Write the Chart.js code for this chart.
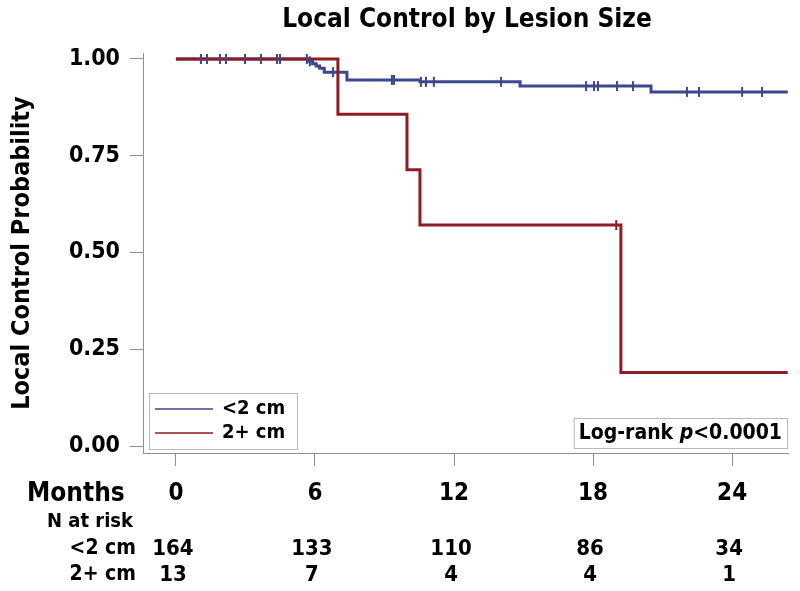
<!DOCTYPE html>
<html><head><meta charset="utf-8">
<script src="https://cdn.jsdelivr.net/npm/chart.js@4.4.1/dist/chart.umd.min.js"></script>
<style>html,body{margin:0;padding:0;background:#fff}#wrap{width:800px;height:591px;position:relative}</style>
</head><body><div id="wrap"><canvas id="c" width="800" height="591"></canvas></div>
<script>
// ---- data ----
const chartTitle = 'Local Control by Lesion Size';
const yAxisTitle = 'Local Control Probability';
const xAxisTitle = 'Months';
const riskTitle = 'N at risk';
const seriesNames = ['<2 cm', '2+ cm'];
const monthTicks = [0, 6, 12, 18, 24];
const probTicks = [0, 0.25, 0.5, 0.75, 1.0];

const smallTimes = [0, 5.75, 5.9, 6.05, 6.2, 6.4, 7.38, 10.53, 14.85, 20.5, 26.4];
const smallSurv  = [1.0, 0.994, 0.988, 0.982, 0.976, 0.966, 0.946, 0.941, 0.930, 0.915, 0.915];
const largeTimes = [0, 6.99, 9.97, 10.53, 19.2, 26.4];
const largeSurv  = [1.0, 0.857, 0.714, 0.571, 0.19, 0.19];

const smallCensorTimes = [1.08, 1.34, 1.9, 2.16, 2.98, 3.67, 4.36, 4.49, 5.65, 5.78, 6.78, 9.32, 9.41, 10.57, 10.79, 11.13, 14.03, 17.7, 18.04, 18.21, 19.03, 19.72, 22.05, 22.57, 24.43, 25.29];
const smallCensorSurv  = [1.0, 1.0, 1.0, 1.0, 1.0, 1.0, 1.0, 1.0, 1.0, 0.994, 0.966, 0.946, 0.946, 0.941, 0.941, 0.941, 0.941, 0.930, 0.930, 0.930, 0.930, 0.930, 0.915, 0.915, 0.915, 0.915];
const largeCensorTimes = [19.0];
const largeCensorSurv  = [0.571];

const riskSmall = [164, 133, 110, 86, 34];
const riskLarge = [13, 7, 4, 4, 1];
const pLabelPre = 'Log-rank ';
const pLabelItalic = 'p';
const pLabelPost = '<0.0001';

// ---- styling ----
const FONT = '"Liberation Sans Narrow", "DejaVu Sans Condensed", "Liberation Sans", sans-serif';
const BLUE = '#3c4790';
const RED = '#8e1c24';
const AXIS = '#8f8f8f';

const pts = (xs, ys) => xs.map((x, i) => ({x: x, y: ys[i]}));

const overlay = {
  id: 'overlay',
  afterDraw(chart) {
    const ctx = chart.ctx;
    const xs = chart.scales.x;
    ctx.save();
    // Title
    ctx.fillStyle = '#000';
    ctx.textAlign = 'center';
    ctx.textBaseline = 'middle';
    ctx.font = 'bold 26px ' + FONT;
    ctx.fillText(chartTitle, 467, 20);

    // Legend box
    const lx = 149, ly = 393, lw = 148, lh = 56;
    ctx.fillStyle = '#fff';
    ctx.fillRect(lx, ly, lw, lh);
    ctx.strokeStyle = '#b8b8b8';
    ctx.lineWidth = 1;
    ctx.strokeRect(lx + 0.5, ly + 0.5, lw, lh);
    const ds = chart.data.datasets;
    [0, 1].forEach((k, i) => {
      const yy = ly + 16 + i * 24;
      ctx.strokeStyle = ds[k].borderColor;
      ctx.lineWidth = 1.5;
      ctx.beginPath(); ctx.moveTo(155, yy); ctx.lineTo(213, yy); ctx.stroke();
      ctx.fillStyle = '#000';
      ctx.textAlign = 'left';
      ctx.font = 'bold 20px ' + FONT;
      ctx.fillText(ds[k].label, 222, yy);
    });

    // Log-rank box
    const fs = 21;
    ctx.font = 'bold ' + fs + 'px ' + FONT;
    const w1 = ctx.measureText(pLabelPre).width;
    const w3 = ctx.measureText(pLabelPost).width;
    ctx.font = 'bold italic ' + fs + 'px ' + FONT;
    const w2 = ctx.measureText(pLabelItalic).width;
    const tw = w1 + w2 + w3;
    const bx1 = 787, bx0 = bx1 - tw - 10, by0 = 418, by1 = 448;
    ctx.fillStyle = '#fff';
    ctx.fillRect(bx0, by0, bx1 - bx0, by1 - by0);
    ctx.strokeStyle = '#b8b8b8';
    ctx.lineWidth = 1;
    ctx.strokeRect(bx0 + 0.5, by0 + 0.5, bx1 - bx0, by1 - by0);
    ctx.fillStyle = '#000';
    ctx.textAlign = 'left';
    let tx = bx0 + 5; const ty = (by0 + by1) / 2 + 1;
    ctx.font = 'bold ' + fs + 'px ' + FONT; ctx.fillText(pLabelPre, tx, ty); tx += w1;
    ctx.font = 'bold italic ' + fs + 'px ' + FONT; ctx.fillText(pLabelItalic, tx, ty); tx += w2;
    ctx.font = 'bold ' + fs + 'px ' + FONT; ctx.fillText(pLabelPost, tx, ty);

    // Risk table
    ctx.fillStyle = '#000';
    ctx.textAlign = 'left';
    ctx.font = 'bold 26px ' + FONT;
    ctx.fillText(xAxisTitle, 27, 494);
    ctx.font = 'bold 20px ' + FONT;
    ctx.fillText(riskTitle, 47, 522);
    ctx.textAlign = 'right';
    ctx.font = 'bold 21px ' + FONT;
    ctx.fillText(seriesNames[0], 136, 549);
    ctx.fillText(seriesNames[1], 136, 575);
    ctx.textAlign = 'center';
    ctx.font = 'bold 22px ' + FONT;
    monthTicks.forEach((m, i) => {
      const px = xs.getPixelForValue(m);
      ctx.fillText(String(riskSmall[i]), px - 3, 549);
      ctx.fillText(String(riskLarge[i]), px - 3, 575);
    });
    ctx.restore();
  }
};

new Chart(document.getElementById('c'), {
  type: 'scatter',
  data: {
    datasets: [
      { label: seriesNames[0], type: 'line', data: pts(smallTimes, smallSurv), stepped: 'before',
        borderColor: BLUE, borderWidth: 3, pointRadius: 0, fill: false, order: 2 },
      { label: seriesNames[1], type: 'line', data: pts(largeTimes, largeSurv), stepped: 'before',
        borderColor: RED, borderWidth: 3, pointRadius: 0, fill: false, order: 1 },
      { label: 'cens1', data: pts(smallCensorTimes, smallCensorSurv), pointStyle: 'line', rotation: 90,
        pointRadius: 5, borderColor: BLUE, borderWidth: 2, order: 0 },
      { label: 'cens2', data: pts(largeCensorTimes, largeCensorSurv), pointStyle: 'line', rotation: 90,
        pointRadius: 5, borderColor: RED, borderWidth: 2, order: 0 }
    ]
  },
  options: {
    responsive: false, animation: false, devicePixelRatio: 1,
    layout: { padding: { top: 53, right: 12, left: 0, bottom: 0 } },
    plugins: { legend: { display: false }, tooltip: { enabled: false }, title: { display: false } },
    scales: {
      x: {
        type: 'linear', min: -1.42, max: 26.41,
        afterBuildTicks: s => { s.ticks = monthTicks.map(v => ({ value: v })); },
        afterFit: s => { s.height = 138; },
        grid: { display: true, drawOnChartArea: false, drawTicks: true, tickLength: 13, color: AXIS, tickColor: AXIS },
        border: { display: true, color: AXIS, width: 1 },
        ticks: { color: '#000', font: { family: FONT, size: 24, weight: 'bold' }, padding: 13, maxRotation: 0, autoSkip: false }
      },
      y: {
        type: 'linear', min: -0.018, max: 1.0155,
        afterBuildTicks: s => { s.ticks = probTicks.map(v => ({ value: v })); },
        afterFit: s => { s.width = 143; },
        grid: { display: true, drawOnChartArea: false, drawTicks: true, tickLength: 13, color: AXIS, tickColor: AXIS },
        border: { display: true, color: AXIS, width: 1 },
        ticks: { color: '#000', font: { family: FONT, size: 23, weight: 'bold' }, padding: 10,
                 callback: v => v.toFixed(2) },
        title: { display: true, text: yAxisTitle, color: '#000', font: { family: FONT, size: 25, weight: 'bold' }, padding: { top: 7, bottom: 0 } }
      }
    }
  },
  plugins: [overlay]
});
</script>
</body></html>
